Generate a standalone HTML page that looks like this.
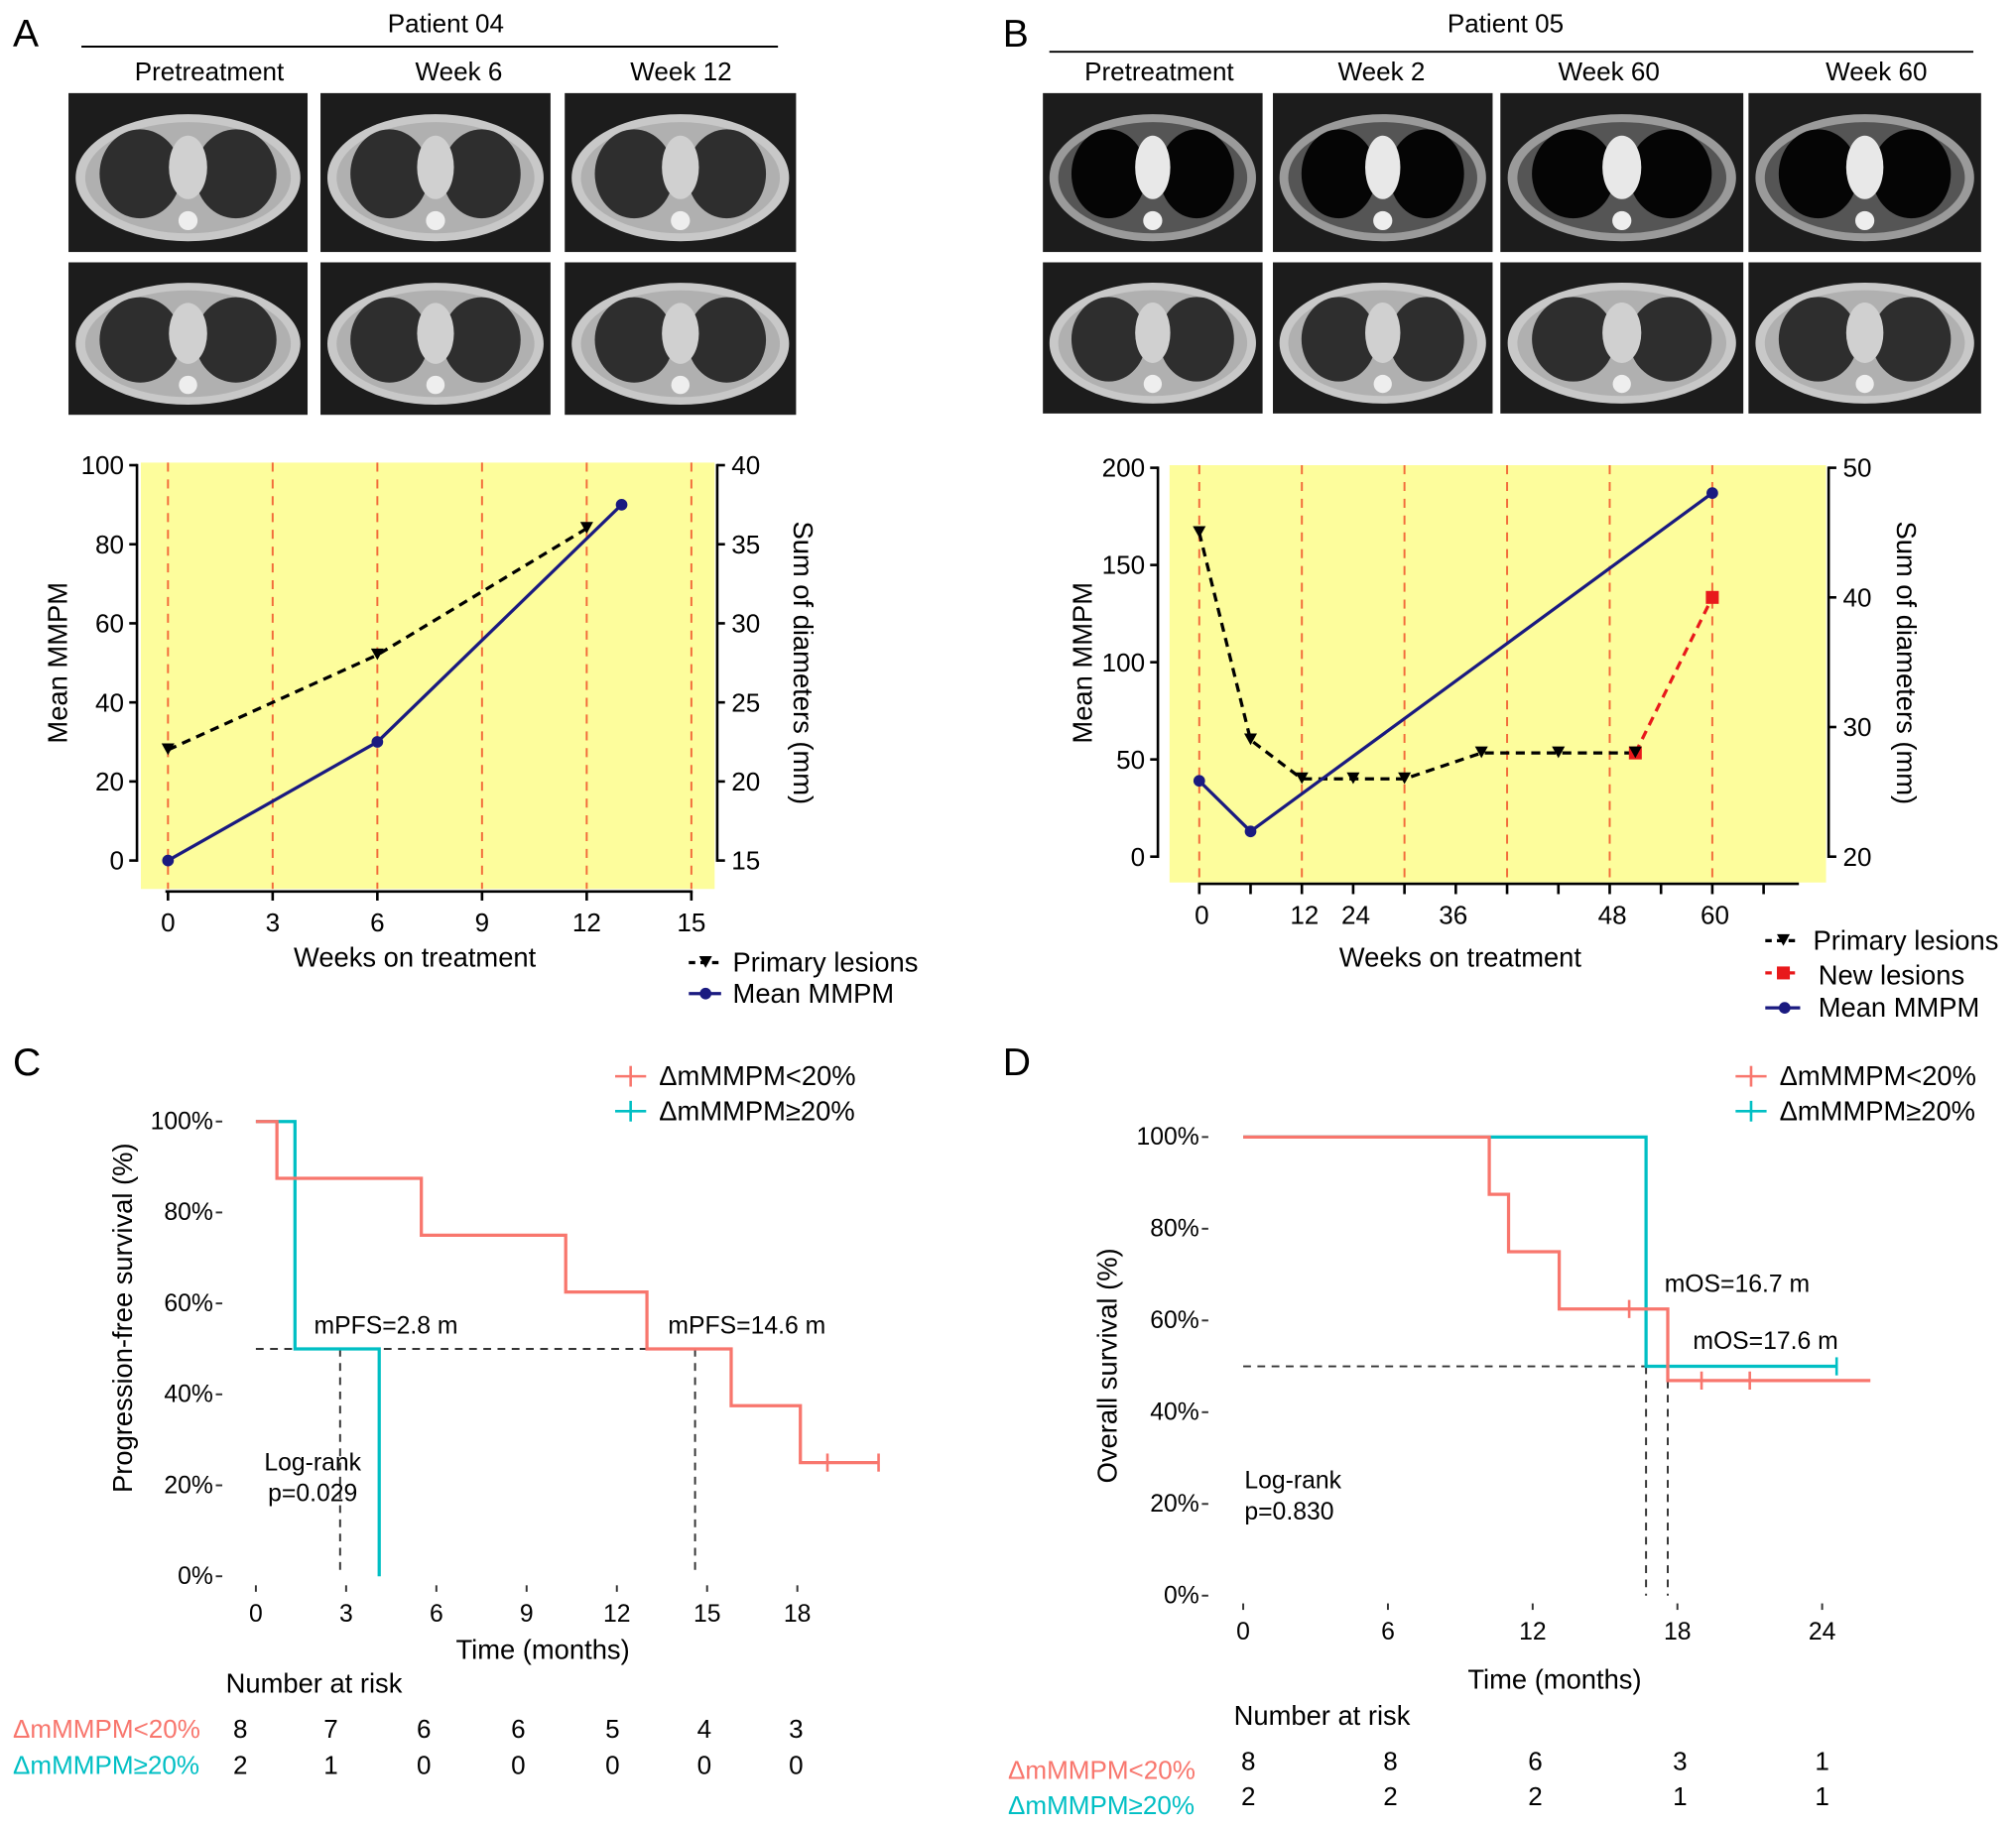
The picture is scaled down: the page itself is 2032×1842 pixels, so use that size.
<!DOCTYPE html>
<html><head><meta charset="utf-8"><style>
html,body{margin:0;padding:0;background:#fff;}
svg{display:block;font-family:"Liberation Sans",Arial,sans-serif;}
</style></head><body>
<svg id="fig" width="2032" height="1842" viewBox="0 0 1560 1414" xmlns="http://www.w3.org/2000/svg">
<g id="static">
<text x="10" y="36" font-size="30">A</text>
<text x="776" y="36" font-size="30">B</text>
<text x="10" y="832" font-size="30">C</text>
<text x="776" y="832" font-size="30">D</text>
<text x="345" y="25" font-size="20" text-anchor="middle">Patient 04</text>
<line x1="63" y1="36" x2="602" y2="36" stroke="#000" stroke-width="1.5"/>
<text x="162" y="62" font-size="20" text-anchor="middle">Pretreatment</text>
<text x="355" y="62" font-size="20" text-anchor="middle">Week 6</text>
<text x="527" y="62" font-size="20" text-anchor="middle">Week 12</text>
<text x="1165" y="25" font-size="20" text-anchor="middle">Patient 05</text>
<line x1="812" y1="40" x2="1527" y2="40" stroke="#000" stroke-width="1.5"/>
<text x="897" y="62" font-size="20" text-anchor="middle">Pretreatment</text>
<text x="1069" y="62" font-size="20" text-anchor="middle">Week 2</text>
<text x="1245" y="62" font-size="20" text-anchor="middle">Week 60</text>
<text x="1452" y="62" font-size="20" text-anchor="middle">Week 60</text>
</g>
<g id="ct"></g>
<g id="chartA"></g>
<g id="chartB"></g>
<g id="chartC"></g>
<g id="chartD"></g>
</svg>
<script>
// ---------- data ----------
const aWeeks = [0, 6, 12];
const aPrimary = [22, 28, 36];
const aMmpmWeeks = [0, 6, 13];
const aMmpm = [0, 30, 90];
const aXTicks = [0, 3, 6, 9, 12, 15];
const aYLeftTicks = [0, 20, 40, 60, 80, 100];
const aYRightTicks = [15, 20, 25, 30, 35, 40];

const bPrimaryIdx = [0, 1, 2, 3, 4, 5.5, 7, 8.5];
const bPrimary = [45, 29, 26, 26, 26, 28, 28, 28];
const bNewIdx = [8.5, 10];
const bNew = [28, 40];
const bMmpmIdx = [0, 1, 10];
const bMmpm = [39, 13, 187];
const bTickIdx = [0,1,2,3,4,5,6,7,8,9,10,11];
const bLabelIdx = [0, 2, 3, 4.9, 8, 10];
const bLabels = ["0","12","24","36","48","60"];
const bYLeftTicks = [0, 50, 100, 150, 200];
const bYRightTicks = [20, 30, 40, 50];

const cRedT = [0, 0.7, 5.5, 10.3, 13.0, 15.8, 18.1, 20.7];
const cRedS = [100, 87.5, 75, 62.5, 50, 37.5, 25, 25];
const cRedCens = [19.0, 20.7];
const cCyanT = [0, 1.3, 4.1];
const cCyanS = [100, 50, 0];
const cMedians = [2.8, 14.6];
const cXTicks = [0, 3, 6, 9, 12, 15, 18];
const cRiskRed = [8, 7, 6, 6, 5, 4, 3];
const cRiskCyan = [2, 1, 0, 0, 0, 0, 0];

const dRedT = [0, 10.2, 11.0, 13.1, 17.6, 26];
const dRedS = [100, 87.5, 75, 62.5, 46.9, 46.9];
const dRedCens = [16.0, 19.0, 21.0];
const dRedCensS = [62.5, 46.9, 46.9];
const dCyanT = [0, 16.7, 24.6];
const dCyanS = [100, 50, 50];
const dMedians = [16.7, 17.6];
const dXTicks = [0, 6, 12, 18, 24];
const dRiskRed = [8, 8, 6, 3, 1];
const dRiskCyan = [2, 2, 2, 1, 1];
const yPctTicks = [0, 20, 40, 60, 80, 100];

const NS = "http://www.w3.org/2000/svg";
const RED = "#F8766D", CYAN = "#00BFC4", NAVY = "#1a1a80";
function mk(parent, tag, attrs, text) {
  const e = document.createElementNS(NS, tag);
  for (const k in attrs) e.setAttribute(k, attrs[k]);
  if (text !== undefined) e.textContent = text;
  parent.appendChild(e);
  return e;
}
function lin(d0, d1, r0, r1) { return v => r0 + (v - d0) * (r1 - r0) / (d1 - d0); }
function ptsStr(xs, ys, fx, fy) { return xs.map((x, i) => fx(x) + "," + fy(ys[i])).join(" "); }
function stepStr(ts, ss, fx, fy) {
  let p = [];
  for (let i = 0; i < ts.length; i++) {
    if (i > 0) p.push(fx(ts[i]) + "," + fy(ss[i - 1]));
    p.push(fx(ts[i]) + "," + fy(ss[i]));
  }
  return p.join(" ");
}

// ---------- CT images ----------
const ct = document.getElementById("ct");
function ctImg(x, y, w, h, mediastinal, k) {
  const g = mk(ct, "g", {});
  
  
  mk(g, "rect", {x, y, width: w, height: h, fill: "#1c1c1c"});
  const cx = x + w / 2, cy = y + h / 2 + 4;
  mk(g, "ellipse", {cx, cy, rx: w * 0.47, ry: h * 0.4, fill: mediastinal ? "#9a9a9a" : "#c8c8c8"});
  mk(g, "ellipse", {cx, cy, rx: w * 0.43, ry: h * 0.35, fill: mediastinal ? "#555" : "#b0b0b0"});
  mk(g, "ellipse", {cx: cx - w * 0.2, cy: cy - 3, rx: w * 0.17, ry: h * 0.28, fill: mediastinal ? "#050505" : "#2e2e2e"});
  mk(g, "ellipse", {cx: cx + w * 0.2, cy: cy - 3, rx: w * 0.17, ry: h * 0.28, fill: mediastinal ? "#050505" : "#2e2e2e"});
  mk(g, "ellipse", {cx, cy: cy - 8, rx: w * 0.08, ry: h * 0.2, fill: mediastinal ? "#e8e8e8" : "#d0d0d0"});
  mk(g, "circle", {cx, cy: cy + h * 0.27, r: h * 0.06, fill: "#eee"});
}
[[53,185],[248,178],[437,179]].forEach((c, i) => { ctImg(c[0], 72, c[1], 123, false, 'a-r1-' + i); ctImg(c[0], 203, c[1], 118, false, 'a-r2-' + i); });
[[807,170],[985,170],[1161,188],[1353,180]].forEach((c, i) => { ctImg(c[0], 72, c[1], 123, true, 'b-r1-' + i); ctImg(c[0], 203, c[1], 117, false, 'b-r2-' + i); });

// ---------- Chart A ----------
(function () {
  const g = document.getElementById("chartA");
  const x = lin(0, 15, 130, 535), yl = lin(0, 100, 666, 360), yr = lin(15, 40, 666, 360);
  const bg = mk(g, "rect", {x: 109, y: 358, width: 444, height: 330, fill: "#fdfd9c"});
  
  
  aXTicks.forEach(t => {
    const l = mk(g, "line", {x1: x(t), x2: x(t), y1: 358, y2: 688, stroke: "#f26b3a", "stroke-width": 1.5, "stroke-dasharray": "7,6"});
    
    
    mk(g, "line", {x1: x(t), x2: x(t), y1: 690, y2: 697, stroke: "#000", "stroke-width": 2});
    const tx = mk(g, "text", {x: x(t), y: 721, "font-size": 20, "text-anchor": "middle"}, t);
    
    
  });
  mk(g, "line", {x1: 128, x2: 536, y1: 690, y2: 690, stroke: "#000", "stroke-width": 2});
  mk(g, "line", {x1: 106, x2: 106, y1: 359, y2: 667, stroke: "#000", "stroke-width": 2});
  aYLeftTicks.forEach(t => {
    mk(g, "line", {x1: 100, x2: 106, y1: yl(t), y2: yl(t), stroke: "#000", "stroke-width": 2});
    const tx = mk(g, "text", {x: 96, y: yl(t) + 7, "font-size": 20, "text-anchor": "end"}, t);
    
    
  });
  mk(g, "line", {x1: 555, x2: 555, y1: 359, y2: 667, stroke: "#000", "stroke-width": 2});
  aYRightTicks.forEach(t => {
    mk(g, "line", {x1: 555, x2: 561, y1: yr(t), y2: yr(t), stroke: "#000", "stroke-width": 2});
    const tx = mk(g, "text", {x: 566, y: yr(t) + 7, "font-size": 20}, t);
    
    
  });
  const p1 = mk(g, "polyline", {points: ptsStr(aWeeks, aPrimary, x, yr), fill: "none", stroke: "#000", "stroke-width": 2.5, "stroke-dasharray": "7,5"});
  
  
  aWeeks.forEach((w, i) => {
    const m = mk(g, "path", {d: `M${x(w)-5},${yr(aPrimary[i])-5} L${x(w)+5},${yr(aPrimary[i])-5} L${x(w)},${yr(aPrimary[i])+4} Z`, fill: "#000"});
    
    
  });
  const p2 = mk(g, "polyline", {points: ptsStr(aMmpmWeeks, aMmpm, x, yl), fill: "none", stroke: NAVY, "stroke-width": 2.5});
  
  
  aMmpmWeeks.forEach((w, i) => {
    const m = mk(g, "circle", {cx: x(w), cy: yl(aMmpm[i]), r: 4.5, fill: NAVY});
    
    
  });
  const xt = mk(g, "text", {x: 321, y: 748, "font-size": 21, "text-anchor": "middle"}, "Weeks on treatment");
  
  
  const yt = mk(g, "text", {x: 0, y: 0, "font-size": 21, "text-anchor": "middle", transform: "translate(52,513) rotate(-90)"}, "Mean MMPM");
  
  
  const yt2 = mk(g, "text", {x: 0, y: 0, "font-size": 21, "text-anchor": "middle", transform: "translate(614,513) rotate(90)"}, "Sum of diameters (mm)");
  
  
  mk(g, "line", {x1: 533, x2: 558, y1: 745, y2: 745, stroke: "#000", "stroke-width": 2.5, "stroke-dasharray": "5,4"});
  mk(g, "path", {d: "M541,740 L551,740 L546,749 Z", fill: "#000"});
  const l1 = mk(g, "text", {x: 567, y: 752, "font-size": 21}, "Primary lesions");
  
  
  mk(g, "line", {x1: 533, x2: 558, y1: 769, y2: 769, stroke: NAVY, "stroke-width": 2.5});
  mk(g, "circle", {cx: 546, cy: 769, r: 4.5, fill: NAVY});
  const l2 = mk(g, "text", {x: 567, y: 776, "font-size": 21}, "Mean MMPM");
  
  
})();

// ---------- Chart B ----------
(function () {
  const g = document.getElementById("chartB");
  const x = lin(0, 10, 928, 1325), yl = lin(0, 200, 663, 362), yr = lin(20, 50, 663, 362);
  const bg = mk(g, "rect", {x: 905, y: 360, width: 508, height: 323, fill: "#fdfd9c"});
  
  
  [0, 2, 4, 6, 8, 10].forEach(t => {
    const l = mk(g, "line", {x1: x(t), x2: x(t), y1: 360, y2: 683, stroke: "#f26b3a", "stroke-width": 1.5, "stroke-dasharray": "7,6"});
    
    
  });
  mk(g, "line", {x1: 927, x2: 1392, y1: 684, y2: 684, stroke: "#000", "stroke-width": 2});
  bTickIdx.forEach(t => mk(g, "line", {x1: x(t), x2: x(t), y1: 684, y2: 692, stroke: "#000", "stroke-width": 2}));
  bLabelIdx.forEach((t, i) => {
    const tx = mk(g, "text", {x: x(t) + 2, y: 715, "font-size": 20, "text-anchor": "middle"}, bLabels[i]);
    
    
  });
  mk(g, "line", {x1: 896, x2: 896, y1: 361, y2: 664, stroke: "#000", "stroke-width": 2});
  bYLeftTicks.forEach(t => {
    mk(g, "line", {x1: 890, x2: 896, y1: yl(t), y2: yl(t), stroke: "#000", "stroke-width": 2});
    const tx = mk(g, "text", {x: 886, y: yl(t) + 7, "font-size": 20, "text-anchor": "end"}, t);
    
    
  });
  mk(g, "line", {x1: 1415, x2: 1415, y1: 361, y2: 664, stroke: "#000", "stroke-width": 2});
  bYRightTicks.forEach(t => {
    mk(g, "line", {x1: 1415, x2: 1421, y1: yr(t), y2: yr(t), stroke: "#000", "stroke-width": 2});
    const tx = mk(g, "text", {x: 1426, y: yr(t) + 7, "font-size": 20}, t);
    
    
  });
  const p1 = mk(g, "polyline", {points: ptsStr(bPrimaryIdx, bPrimary, x, yr), fill: "none", stroke: "#000", "stroke-width": 2.5, "stroke-dasharray": "7,5"});
  
  
  const p3 = mk(g, "polyline", {points: ptsStr(bNewIdx, bNew, x, yr), fill: "none", stroke: "#e8191b", "stroke-width": 2.5, "stroke-dasharray": "7,5"});
  
  
  bNewIdx.forEach((w, i) => {
    const m = mk(g, "rect", {x: x(w) - 5, y: yr(bNew[i]) - 5, width: 10, height: 10, fill: "#e8191b"});
    
    
  });
  bPrimaryIdx.forEach((w, i) => {
    const m = mk(g, "path", {d: `M${x(w)-5},${yr(bPrimary[i])-5} L${x(w)+5},${yr(bPrimary[i])-5} L${x(w)},${yr(bPrimary[i])+4} Z`, fill: "#000"});
    
    
  });
  const p2 = mk(g, "polyline", {points: ptsStr(bMmpmIdx, bMmpm, x, yl), fill: "none", stroke: NAVY, "stroke-width": 2.5});
  
  
  bMmpmIdx.forEach((w, i) => {
    const m = mk(g, "circle", {cx: x(w), cy: yl(bMmpm[i]), r: 4.5, fill: NAVY});
    
    
  });
  const xt = mk(g, "text", {x: 1130, y: 748, "font-size": 21, "text-anchor": "middle"}, "Weeks on treatment");
  
  
  const yt = mk(g, "text", {x: 0, y: 0, "font-size": 21, "text-anchor": "middle", transform: "translate(845,513) rotate(-90)"}, "Mean MMPM");
  
  
  const yt2 = mk(g, "text", {x: 0, y: 0, "font-size": 21, "text-anchor": "middle", transform: "translate(1468,513) rotate(90)"}, "Sum of diameters (mm)");
  
  
  mk(g, "line", {x1: 1366, x2: 1393, y1: 728, y2: 728, stroke: "#000", "stroke-width": 2.5, "stroke-dasharray": "5,4"});
  mk(g, "path", {d: "M1375,723 L1385,723 L1380,732 Z", fill: "#000"});
  const l1 = mk(g, "text", {x: 1403, y: 735, "font-size": 21}, "Primary lesions");
  
  
  mk(g, "line", {x1: 1366, x2: 1393, y1: 753, y2: 753, stroke: "#e8191b", "stroke-width": 2.5, "stroke-dasharray": "5,4"});
  mk(g, "rect", {x: 1375, y: 748, width: 10, height: 10, fill: "#e8191b"});
  const l3 = mk(g, "text", {x: 1407, y: 762, "font-size": 21}, "New lesions");
  
  
  mk(g, "line", {x1: 1366, x2: 1393, y1: 780, y2: 780, stroke: NAVY, "stroke-width": 2.5});
  mk(g, "circle", {cx: 1381, cy: 780, r: 4.5, fill: NAVY});
  const l2 = mk(g, "text", {x: 1407, y: 787, "font-size": 21}, "Mean MMPM");
  
  
})();

// ---------- KM charts ----------
function km(gid, o) {
  const g = document.getElementById(gid);
  const x = lin(0, o.xMax, o.x0, o.x1), y = lin(0, 100, o.y0, o.y100);
  yPctTicks.forEach(t => {
    mk(g, "line", {x1: o.yAxisX - 5, x2: o.yAxisX, y1: y(t), y2: y(t), stroke: "#333", "stroke-width": 1.5});
    const tx = mk(g, "text", {x: o.yAxisX - 7, y: y(t) + 6, "font-size": 19, "text-anchor": "end"}, t + "%");
    
    
  });
  o.xTicks.forEach(t => {
    mk(g, "line", {x1: x(t), x2: x(t), y1: o.xAxisY, y2: o.xAxisY + 5, stroke: "#333", "stroke-width": 1.5});
    const tx = mk(g, "text", {x: x(t), y: o.xLabelY, "font-size": 19, "text-anchor": "middle"}, t);
    
    
  });
  const mh = mk(g, "line", {x1: x(0), x2: x(Math.max(...o.medians)), y1: y(50), y2: y(50), stroke: "#333", "stroke-width": 1.5, "stroke-dasharray": "6,5"});
  
  
  o.medians.forEach(m => {
    const v = mk(g, "line", {x1: x(m), x2: x(m), y1: y(50), y2: y(0), stroke: "#333", "stroke-width": 1.5, "stroke-dasharray": "6,5"});
    
    
  });
  const c1 = mk(g, "polyline", {points: stepStr(o.cyanT, o.cyanS, x, y), fill: "none", stroke: CYAN, "stroke-width": 2.5});
  
  
  const c2 = mk(g, "polyline", {points: stepStr(o.redT, o.redS, x, y), fill: "none", stroke: RED, "stroke-width": 2.5});
  
  
  o.redCens.forEach((t, i) => {
    const s = o.redCensS[i];
    const c = mk(g, "line", {x1: x(t), x2: x(t), y1: y(s) - 7, y2: y(s) + 7, stroke: RED, "stroke-width": 2});
    
    
  });
  (o.cyanCens || []).forEach((t, i) => {
    const s = o.cyanCensS[i];
    const c = mk(g, "line", {x1: x(t), x2: x(t), y1: y(s) - 7, y2: y(s) + 7, stroke: CYAN, "stroke-width": 2});
    
    
  });
  const xt = mk(g, "text", {x: o.xTitle[0], y: o.xTitle[1], "font-size": 21, "text-anchor": "middle"}, "Time (months)");
  
  
  const yt = mk(g, "text", {x: 0, y: 0, "font-size": 21, "text-anchor": "middle", transform: `translate(${o.yTitle[0]},${o.yTitle[1]}) rotate(-90)`}, o.yTitleText);
  
  
  o.notes.forEach(n => {
    const t = mk(g, "text", {x: n[0], y: n[1], "font-size": 19, "text-anchor": n[3] || "start"}, n[2]);
    
    
  });
  [[RED, "\u0394mMMPM<20%", o.leg[1]], [CYAN, "\u0394mMMPM\u226520%", o.leg[1] + 27]].forEach((L, i) => {
    mk(g, "line", {x1: o.leg[0], x2: o.leg[0] + 24, y1: L[2], y2: L[2], stroke: L[0], "stroke-width": 2});
    mk(g, "line", {x1: o.leg[0] + 12, x2: o.leg[0] + 12, y1: L[2] - 8, y2: L[2] + 8, stroke: L[0], "stroke-width": 2});
    const t = mk(g, "text", {x: o.leg[0] + 34, y: L[2] + 7, "font-size": 21}, L[1]);
    
    
  });
  const nr = mk(g, "text", {x: o.nar[0], y: o.nar[1], "font-size": 21, "text-anchor": "middle"}, "Number at risk");
  
  
  [[RED, "\u0394mMMPM<20%", o.riskRed, o.rowY[0]], [CYAN, "\u0394mMMPM\u226520%", o.riskCyan, o.rowY[1]]].forEach(R => {
    const t = mk(g, "text", {x: o.rowLabelX, y: R[3], "font-size": 20, fill: R[0]}, R[1]);
    
    
    R[2].forEach((v, i) => {
      const tv = mk(g, "text", {x: o.riskX[i], y: R[3] - o.valShift, "font-size": 20, "text-anchor": "middle"}, v);
      
      
    });
  });
}
km("chartC", {
  xMax: 18, x0: 198, x1: 617, y0: 1220, y100: 868, yAxisX: 172, xAxisY: 1227, xLabelY: 1255,
  xTicks: cXTicks, medians: cMedians, redT: cRedT, redS: cRedS, cyanT: cCyanT, cyanS: cCyanS,
  redCens: cRedCens, redCensS: [25, 25],
  xTitle: [420, 1284], yTitle: [102, 1020], yTitleText: "Progression-free survival (%)",
  notes: [[243, 1032, "mPFS=2.8 m"], [517, 1032, "mPFS=14.6 m"], [242, 1138, "Log-rank", "middle"], [242, 1162, "p=0.029", "middle"]],
  leg: [476, 833], nar: [243, 1310], rowY: [1345, 1373], rowLabelX: 10, valShift: 0,
  riskX: [186, 256, 328, 401, 474, 545, 616], riskRed: cRiskRed, riskCyan: cRiskCyan
});
km("chartD", {
  xMax: 24, x0: 962, x1: 1410, y0: 1235, y100: 880, yAxisX: 935, xAxisY: 1241, xLabelY: 1269,
  xTicks: dXTicks, medians: dMedians, redT: dRedT, redS: dRedS, cyanT: dCyanT, cyanS: dCyanS,
  redCens: dRedCens, redCensS: dRedCensS, cyanCens: [24.6], cyanCensS: [50],
  xTitle: [1203, 1307], yTitle: [864, 1057], yTitleText: "Overall survival (%)",
  notes: [[1288, 1000, "mOS=16.7 m"], [1310, 1044, "mOS=17.6 m"], [963, 1152, "Log-rank"], [963, 1176, "p=0.830"]],
  leg: [1343, 833], nar: [1023, 1335], rowY: [1377, 1404], rowLabelX: 780, valShift: 7,
  riskX: [966, 1076, 1188, 1300, 1410], riskRed: dRiskRed, riskCyan: dRiskCyan
});
</script>
</body></html>
